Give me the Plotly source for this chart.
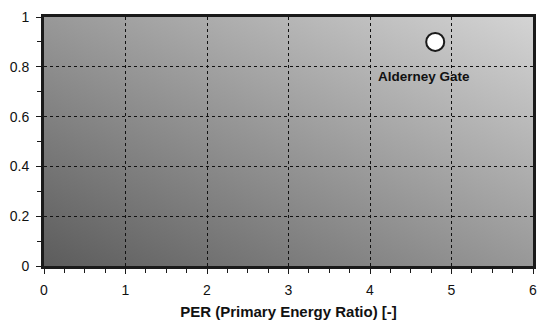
import base64
import plotly.graph_objects as go

# Data
names = ["Alderney Gate"]
per = [4.8]
yvals = [0.9]
x_ticks = [0, 1, 2, 3, 4, 5, 6]
y_ticks = [0, 0.2, 0.4, 0.6, 0.8, 1]
y_tick_labels = ["0", "0.2", "0.4", "0.6", "0.8", "1"]

svg = (
    '<svg xmlns="http://www.w3.org/2000/svg" width="600" height="300" '
    'viewBox="0 0 600 300" preserveAspectRatio="none">'
    '<defs><linearGradient id="g" x1="0" y1="1" x2="1" y2="0">'
    '<stop offset="0" stop-color="#5c5c5c"/>'
    '<stop offset="1" stop-color="#d4d4d4"/>'
    '</linearGradient></defs>'
    '<rect width="600" height="300" fill="url(#g)"/></svg>'
)
svg_uri = "data:image/svg+xml;base64," + base64.b64encode(svg.encode()).decode()

FONT = "Liberation Sans, Arial"

fig = go.Figure()
fig.add_trace(go.Scatter(
    x=per, y=yvals, mode="markers",
    marker=dict(size=18, color="white", line=dict(color="#1a1a1a", width=2)),
    hoverinfo="skip", showlegend=False,
))
for n, xv, yv in zip(names, per, yvals):
    fig.add_annotation(x=xv, y=yv, text="<b>" + n + "</b>", showarrow=False,
                       xshift=-11, yshift=-35,
                       font=dict(family=FONT, size=13.5, color="#111"))

fig.add_layout_image(dict(source=svg_uri, xref="x", yref="y", x=0, y=1, sizex=6, sizey=1,
                          sizing="stretch", layer="below", xanchor="left", yanchor="top"))

axis_common = dict(
    showline=True, linecolor="#1a1a1a", linewidth=3, mirror=True,
    showgrid=True, gridcolor="#111", gridwidth=1, griddash="dot",
    zeroline=False, ticks="outside", ticklen=5, tickcolor="#1a1a1a", tickwidth=1,
    tickfont=dict(family=FONT, size=14, color="#111"),
    automargin=False,
)
fig.update_xaxes(range=[0, 6], tickvals=x_ticks, **axis_common, ticklabelstandoff=4,
                 minor=dict(dtick=0.25, ticks="outside", ticklen=4, tickcolor="#1a1a1a", showgrid=False),
                 title=dict(text="<b>PER (Primary Energy Ratio) [-]</b>",
                            font=dict(family=FONT, size=15, color="#111"), standoff=14))
fig.update_yaxes(range=[0, 1], tickvals=y_ticks, ticktext=y_tick_labels, **axis_common,
                 ticklabelstandoff=4,
                 minor=dict(dtick=0.1, ticks="outside", ticklen=4, tickcolor="#1a1a1a", showgrid=False))

# page has an 8px body margin; compensate so the plot lands where the reference has it
fig.update_layout(
    width=542, height=312,
    margin=dict(l=36, r=17, t=9, b=54),
    paper_bgcolor="white", plot_bgcolor="rgba(0,0,0,0)",
    font=dict(family=FONT),
)
fig.write_html("out.html")
